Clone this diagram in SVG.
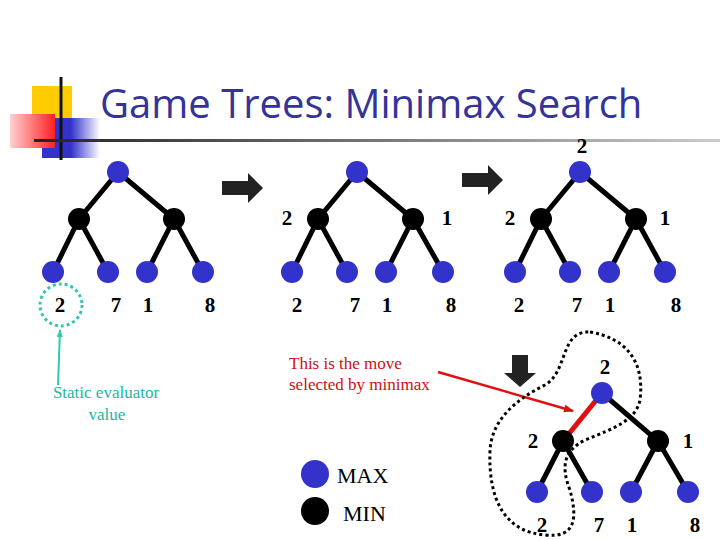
<svg xmlns="http://www.w3.org/2000/svg" width="720" height="540" viewBox="0 0 720 540">
<defs>
<linearGradient id="ul" x1="0" x2="1"><stop offset="0" stop-color="#222"/><stop offset="1" stop-color="#ccc"/></linearGradient>
<linearGradient id="rd" x1="0" x2="1"><stop offset="0" stop-color="#ffd0d0"/><stop offset="1" stop-color="#ff2020"/></linearGradient>
<linearGradient id="bl" x1="0" x2="1"><stop offset="0.5" stop-color="#3333cc"/><stop offset="1" stop-color="#3333cc" stop-opacity="0"/></linearGradient>
<marker id="ra" markerWidth="10" markerHeight="8" refX="9" refY="4" orient="auto" markerUnits="userSpaceOnUse"><path d="M0,0 L10,4 L0,8 z" fill="#e01010"/></marker>
<marker id="ta" markerWidth="8" markerHeight="6" refX="7" refY="3" orient="auto" markerUnits="userSpaceOnUse"><path d="M0,0 L8,3 L0,6 z" fill="#30c8b0"/></marker>
</defs>
<style>
.e{stroke:#000;stroke-width:5;fill:none}
.mx{fill:#3333cc}
.mn{fill:#000}
.n{font-family:"Liberation Serif",serif;font-weight:bold;font-size:21px}
.s{font-family:"Liberation Serif",serif;font-size:17px}
</style>
<rect width="720" height="540" fill="#fff"/>
<g id="logo">
<rect x="32" y="86" width="40" height="34" fill="#ffcc00"/>
<rect x="42" y="118" width="58" height="40" fill="url(#bl)"/>
<rect x="10" y="114" width="45" height="34" fill="url(#rd)"/>
<line x1="61" y1="77" x2="61" y2="160" stroke="#111" stroke-width="3"/>
<rect x="34" y="139" width="686" height="3" fill="url(#ul)"/>
</g>
<text x="100" y="118" font-family="Open Sans,Liberation Sans,sans-serif" font-size="40" fill="#333399">Game Trees: Minimax Search</text>
<g id="connectors">
<path class="e" d="M118,172 L79,219 L53,272 M79,219 L108,272 M118,172 L174,219 L147,272 M174,219 L203,272"/>
<path class="e" d="M357,172 L318,219 L292,272 M318,219 L347,272 M357,172 L413,219 L386,272 M413,219 L443,272"/>
<path class="e" d="M580,172 L541,219 L515,272 M541,219 L570,272 M580,172 L636,219 L609,272 M636,219 L665,272"/>
<path class="e" d="M563,441 L537,492 M563,441 L592,492 M602,393 L658,441 L631,492 M658,441 L688,492"/>
<line x1="602" y1="393" x2="563" y2="441" stroke="#e01010" stroke-width="5"/>
<line x1="438" y1="372" x2="573" y2="411" stroke="#e01010" stroke-width="2.5" marker-end="url(#ra)"/>
<line x1="58" y1="385" x2="60" y2="330" stroke="#30c8b0" stroke-width="2" marker-end="url(#ta)"/>
<path d="M222,181 h26 v-8 l15,15 l-15,15 v-8 h-26 z" fill="#222"/>
<path d="M462,173 h26 v-8 l15,15 l-15,15 v-8 h-26 z" fill="#222"/>
<path d="M512,355 h16 v18 h8 l-16,14 l-16,-14 h8 z" fill="#222"/>
<circle cx="61" cy="305" r="21" fill="none" stroke="#30c8b0" stroke-width="3" stroke-dasharray="3,3"/>
<path d="M590,332 C625,338 645,360 640,400 C636,420 615,428 585,440 C565,450 560,465 570,490 C578,520 575,538 545,535 C505,532 488,500 490,450 C492,420 515,400 545,385 C568,372 560,330 590,332 Z" fill="none" stroke="#000" stroke-width="3" stroke-dasharray="3,3"/>
</g>
<g id="nodes">
<circle class="mx" cx="118" cy="172" r="11"/><circle class="mn" cx="79" cy="219" r="11"/><circle class="mn" cx="174" cy="219" r="11"/>
<circle class="mx" cx="53" cy="272" r="11"/><circle class="mx" cx="108" cy="272" r="11"/><circle class="mx" cx="147" cy="272" r="11"/><circle class="mx" cx="203" cy="272" r="11"/>
<circle class="mx" cx="357" cy="172" r="11"/><circle class="mn" cx="318" cy="219" r="11"/><circle class="mn" cx="413" cy="219" r="11"/>
<circle class="mx" cx="292" cy="272" r="11"/><circle class="mx" cx="347" cy="272" r="11"/><circle class="mx" cx="386" cy="272" r="11"/><circle class="mx" cx="443" cy="272" r="11"/>
<circle class="mx" cx="580" cy="172" r="11"/><circle class="mn" cx="541" cy="219" r="11"/><circle class="mn" cx="636" cy="219" r="11"/>
<circle class="mx" cx="515" cy="272" r="11"/><circle class="mx" cx="570" cy="272" r="11"/><circle class="mx" cx="609" cy="272" r="11"/><circle class="mx" cx="665" cy="272" r="11"/>
<circle class="mx" cx="602" cy="393" r="11"/><circle class="mn" cx="563" cy="441" r="11"/><circle class="mn" cx="658" cy="441" r="11"/>
<circle class="mx" cx="537" cy="492" r="11"/><circle class="mx" cx="592" cy="492" r="11"/><circle class="mx" cx="631" cy="492" r="11"/><circle class="mx" cx="688" cy="492" r="11"/>
<circle class="mx" cx="315" cy="474" r="14"/><circle class="mn" cx="315" cy="511" r="14"/>
</g>
<g id="labels" class="n" text-anchor="middle">
<text x="60" y="312">2</text><text x="116" y="312">7</text><text x="148" y="312">1</text><text x="210" y="312">8</text>
<text x="287" y="225">2</text><text x="447" y="225">1</text>
<text x="297" y="312">2</text><text x="355" y="312">7</text><text x="387" y="312">1</text><text x="451" y="312">8</text>
<text x="582" y="153">2</text><text x="510" y="225">2</text><text x="665" y="225">1</text>
<text x="519" y="312">2</text><text x="577" y="312">7</text><text x="610" y="312">1</text><text x="676" y="312">8</text>
<text x="605" y="374">2</text><text x="533" y="448">2</text><text x="688" y="448">1</text>
<text x="542" y="532">2</text><text x="599" y="532">7</text><text x="632" y="532">1</text><text x="695" y="532">8</text>
</g>
<g id="texts" class="s">
<text x="106" y="398" text-anchor="middle" fill="#20b8a0">Static evaluator</text>
<text x="107" y="420" text-anchor="middle" fill="#20b8a0">value</text>
<text x="289" y="369" fill="#cc1010">This is the move</text>
<text x="289" y="390" fill="#cc1010">selected by minimax</text>
<text x="337" y="483" font-size="22">MAX</text>
<text x="343" y="521" font-size="22">MIN</text>
</g>
</svg>
